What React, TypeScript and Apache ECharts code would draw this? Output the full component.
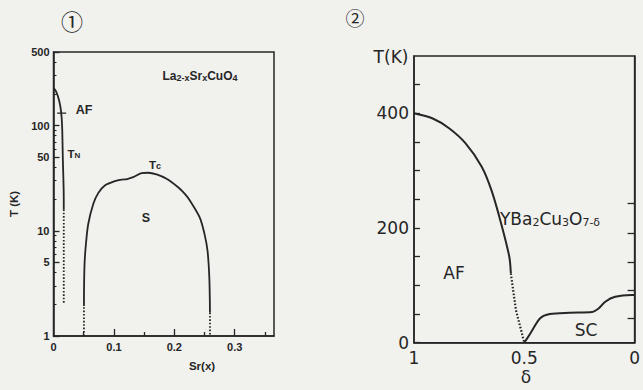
import React, { useEffect, useRef } from "react";
import * as echarts from "echarts";

const INK = "#262626";
const PAPER = "#f1f1ee";
const LEFT_FONT = "Liberation Sans, Arial, sans-serif";
const RIGHT_FONT = "DejaVu Sans, sans-serif";

// ---- Panel 1: La2-xSrxCuO4, T (K) on a log scale vs Sr content x ----
const srLabels = [0, 0.1, 0.2, 0.3];
const srTicksMajor = [0.1, 0.2, 0.3];
const srTicksMinor = [0.05, 0.15, 0.25, 0.35];
const logLabels = [1, 5, 10, 50, 100, 500];
const logTicksMinor = [2, 3, 4, 6, 7, 8, 9, 20, 30, 40, 60, 70, 80, 90, 200, 300, 400];

// Neel temperature T_N (solid) and its low-T continuation (dotted)
const neelSolid: [number, number][] = [
  [0, 228], [0.004, 212], [0.0092, 174], [0.0126, 135], [0.0143, 97],
  [0.0155, 47], [0.0168, 25], [0.017, 16],
];
const neelDotted: [number, number][] = [[0.017, 16], [0.017, 2]];
// short leader mark pointing at the AF label
const afLeader: [number, number][] = [[0.006, 131], [0.021, 131]];

// Superconducting Tc dome
const tcSolid: [number, number][] = [
  [0.0504, 1.93], [0.0506, 3], [0.0515, 5], [0.0537, 7.5], [0.0575, 11.6],
  [0.0658, 18], [0.074, 22.8], [0.085, 26.9], [0.1017, 29.6], [0.113, 30.6],
  [0.122, 31], [0.1319, 32.3], [0.1458, 35.3], [0.1567, 35.6], [0.1706, 34.3],
  [0.1871, 31.2], [0.2063, 25.9], [0.2174, 22.4], [0.226, 19.3], [0.242, 13.4],
  [0.25, 9.3], [0.255, 6.45], [0.258, 3.5], [0.259, 1.67],
];
const tcDottedLow: [number, number][] = [[0.0504, 1], [0.0504, 1.93]];
const tcDottedHigh: [number, number][] = [[0.259, 1.67], [0.259, 1]];

// ---- Panel 2: YBa2Cu3O7-delta, T (K) vs oxygen deficiency delta ----
const deltaLabels = [1, 0.5, 0];
const tempLabels = [0, 200, 400];
const tempTicks = [0, 50, 100, 150, 200, 250, 300, 350, 400, 450];
const rightEdgeTicks = [43, 92, 141, 191, 243];

const afSolid: [number, number][] = [
  [1, 400], [0.915, 391], [0.841, 374], [0.767, 348], [0.693, 307],
  [0.649, 266], [0.605, 208], [0.568, 150], [0.561, 121],
];
const afDotted: [number, number][] = [[0.561, 121], [0.538, 57], [0.5, 0]];
const scSolid: [number, number][] = [
  [0.5, 0], [0.472, 16.4], [0.428, 42.5], [0.384, 50], [0.295, 52.3],
  [0.192, 53.5], [0.162, 60], [0.133, 71.5], [0.088, 80], [0.015, 83], [0, 83],
];

const line = (
  data: [number, number][],
  xi: number,
  yi: number,
  opts: { dotted?: boolean; width?: number; smooth?: number } = {}
) => ({
  type: "line",
  xAxisIndex: xi,
  yAxisIndex: yi,
  data,
  showSymbol: false,
  symbol: "none",
  smooth: opts.smooth ?? 0,
  silent: true,
  lineStyle: {
    color: INK,
    width: opts.width ?? 1.8,
    type: opts.dotted ? [1.6, 1.8] : "solid",
  },
  z: 3,
});

const text = (x: number, y: number, t: string, extra: any = {}) => ({
  type: "text",
  x,
  y,
  silent: true,
  style: {
    text: t,
    fill: INK,
    align: "center",
    verticalAlign: "middle",
    ...extra,
  },
});

export default function App() {
  const ref = useRef<HTMLDivElement>(null);

  useEffect(() => {
    document.body.style.margin = "0";
    const chart = echarts.init(ref.current!, null, { renderer: "svg" });

    const leftLabel = { fontFamily: LEFT_FONT, fontSize: 11, fontWeight: "bold", color: INK };
    const rightLabel = { fontFamily: RIGHT_FONT, fontSize: 17, color: INK };
    const axisLine = { show: true, onZero: false, lineStyle: { color: INK, width: 1.5 } };
    const noLine = { show: false, onZero: false };
    const tickStyle = { color: INK, width: 1.3 };

    chart.setOption({
      animation: false,
      backgroundColor: PAPER,
      grid: [
        { left: 53.5, top: 52, width: 220.5, height: 284, show: true, borderColor: INK, borderWidth: 1.5, backgroundColor: "transparent" },
        { left: 414, top: 56, width: 226, height: 286.7, show: true, borderColor: INK, borderWidth: 1.5, backgroundColor: "transparent" },
      ],
      xAxis: [
        {
          gridIndex: 0, type: "value", min: 0, max: 0.365, position: "bottom",
          axisLine,
          splitLine: { show: false },
          axisTick: { show: true, inside: true, length: 7, customValues: srTicksMajor, lineStyle: tickStyle },
          axisLabel: { ...leftLabel, margin: 5, customValues: srLabels, formatter: (v: number) => String(v) },
        },
        {
          gridIndex: 0, type: "value", min: 0, max: 0.365, position: "bottom",
          axisLine: noLine,
          splitLine: { show: false },
          axisTick: { show: true, inside: true, length: 4, customValues: srTicksMinor, lineStyle: tickStyle },
          axisLabel: { show: false },
        },
        {
          gridIndex: 1, type: "value", min: 0, max: 1, inverse: true, position: "bottom",
          axisLine,
          splitLine: { show: false },
          axisTick: { show: false },
          axisLabel: { ...rightLabel, margin: 7, customValues: deltaLabels, formatter: (v: number) => String(v) },
        },
      ],
      yAxis: [
        {
          gridIndex: 0, type: "log", logBase: 10, min: 1, max: 500, position: "left",
          axisLine,
          splitLine: { show: false },
          axisTick: { show: true, inside: true, length: 6, customValues: logLabels, lineStyle: tickStyle },
          axisLabel: { ...leftLabel, margin: 4, customValues: logLabels, formatter: (v: number) => String(Math.round(v)) },
        },
        {
          gridIndex: 0, type: "log", logBase: 10, min: 1, max: 500, position: "left",
          axisLine: noLine,
          splitLine: { show: false },
          axisTick: { show: true, inside: true, length: 3, customValues: logTicksMinor, lineStyle: { color: INK, width: 1.1 } },
          axisLabel: { show: false },
        },
        {
          gridIndex: 1, type: "value", min: 0, max: 500, position: "left",
          axisLine,
          splitLine: { show: false },
          axisTick: { show: true, inside: true, length: 6, customValues: tempTicks, lineStyle: tickStyle },
          axisLabel: { ...rightLabel, margin: 5, customValues: tempLabels },
        },
        {
          gridIndex: 1, type: "value", min: 0, max: 500, position: "right",
          axisLine,
          splitLine: { show: false },
          axisTick: { show: true, inside: true, length: 7, customValues: rightEdgeTicks, lineStyle: tickStyle },
          axisLabel: { show: false },
        },
      ],
      series: [
        line(neelSolid, 0, 0, { smooth: 0.3 }),
        line(neelDotted, 0, 0, { dotted: true, width: 1.8 }),
        line(afLeader, 0, 0, { width: 1.2 }),
        line(tcSolid, 0, 0, { smooth: 0.3 }),
        line(tcDottedLow, 0, 0, { dotted: true, width: 1.8 }),
        line(tcDottedHigh, 0, 0, { dotted: true, width: 1.8 }),
        line(afSolid, 2, 2, { smooth: 0.3, width: 2 }),
        line(afDotted, 2, 2, { dotted: true, width: 2.2 }),
        line(scSolid, 2, 2, { smooth: 0.3, width: 2 }),
      ],
      graphic: [
        // panel numbers
        text(72, 20, "①", { fontSize: 22, fontFamily: "Noto Sans CJK JP, DejaVu Sans, sans-serif" }),
        text(355, 17, "②", { fontSize: 19, fontFamily: "Noto Sans CJK JP, DejaVu Sans, sans-serif" }),
        // panel 1 annotations
        text(200, 76, "{m|La}{s|2-x}{m|Sr}{s|x}{m|CuO}{s|4}", {
          fontFamily: LEFT_FONT,
          rich: {
            m: { fontSize: 12, fontWeight: "bold", fill: INK, fontFamily: LEFT_FONT },
            s: { fontSize: 9, fontWeight: "bold", fill: INK, fontFamily: LEFT_FONT, padding: [3, 0, 0, 0] },
          },
        }),
        text(84, 110, "AF", { fontSize: 12.5, fontWeight: "bold", fontFamily: LEFT_FONT }),
        text(74, 154, "{m|T}{s|N}", {
          rich: {
            m: { fontSize: 11.5, fontWeight: "bold", fill: INK, fontFamily: LEFT_FONT },
            s: { fontSize: 8, fontWeight: "bold", fill: INK, fontFamily: LEFT_FONT, padding: [3, 0, 0, 0] },
          },
        }),
        text(155, 165, "{m|T}{s|c}", {
          rich: {
            m: { fontSize: 11.5, fontWeight: "bold", fill: INK, fontFamily: LEFT_FONT },
            s: { fontSize: 9, fontWeight: "bold", fill: INK, fontFamily: LEFT_FONT, padding: [2, 0, 0, 0] },
          },
        }),
        text(146, 218, "S", { fontSize: 12.5, fontWeight: "bold", fontFamily: LEFT_FONT }),
        text(202, 366, "Sr(x)", { fontSize: 11.5, fontWeight: "bold", fontFamily: LEFT_FONT }),
        {
          ...text(0, 0, "T (K)", { fontSize: 11.5, fontWeight: "bold", fontFamily: LEFT_FONT }),
          x: 14,
          y: 204,
          rotation: Math.PI / 2,
        },
        // panel 2 annotations
        text(391, 57, "T(K)", { fontSize: 17, fontFamily: RIGHT_FONT }),
        text(550, 219, "{m|YBa}{s|2}{m|Cu}{s|3}{m|O}{s|7-δ}", {
          rich: {
            m: { fontSize: 17, fill: INK, fontFamily: RIGHT_FONT },
            s: { fontSize: 11, fill: INK, fontFamily: RIGHT_FONT, padding: [7, 0, 0, 0] },
          },
        }),
        text(454, 273, "AF", { fontSize: 17, fontFamily: RIGHT_FONT }),
        text(586, 330, "SC", { fontSize: 17, fontFamily: RIGHT_FONT }),
        text(526, 377, "δ", { fontSize: 17, fontFamily: RIGHT_FONT }),
      ],
    });

    return () => chart.dispose();
  }, []);

  return (
    <div
      ref={ref}
      style={{ position: "fixed", left: 0, top: 0, width: 643, height: 390, background: PAPER }}
    />
  );
}
